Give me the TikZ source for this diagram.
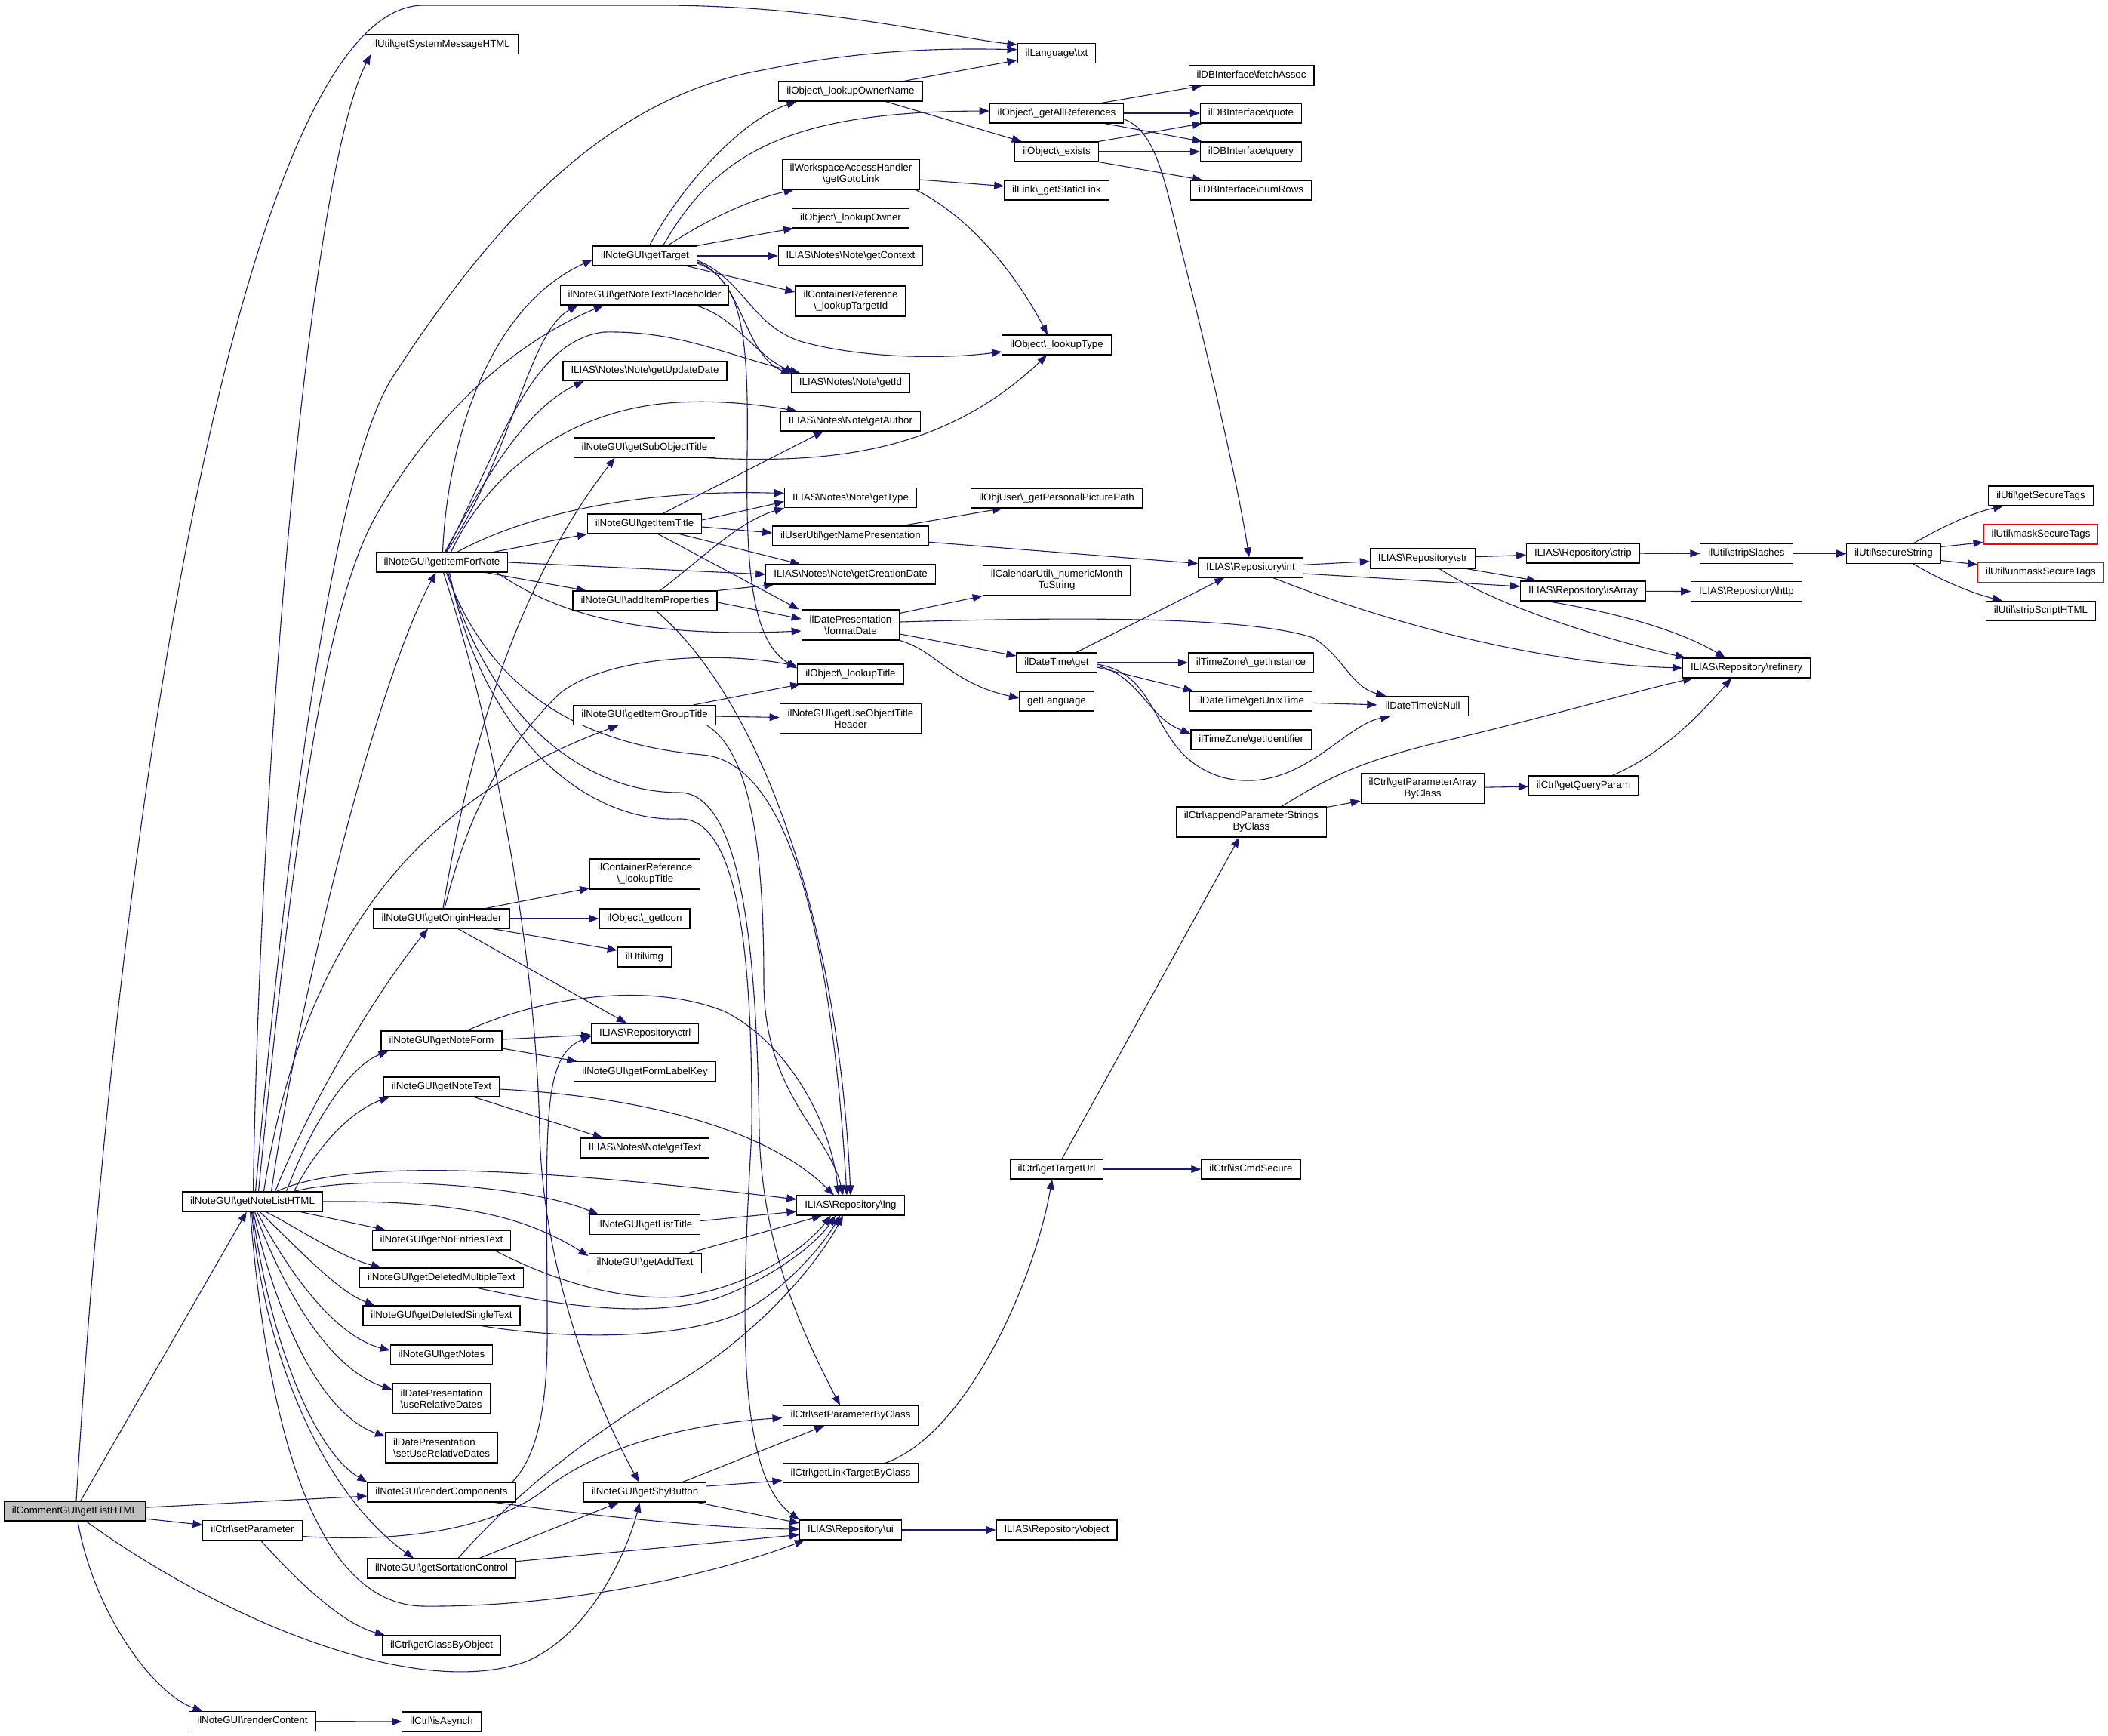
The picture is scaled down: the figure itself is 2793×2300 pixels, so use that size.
\documentclass[tikz,border=0pt]{standalone}
\usepackage{fontspec}
\setmainfont{Liberation Sans}
\usetikzlibrary{arrows.meta,calc}
\definecolor{edgecol}{RGB}{25,25,112}
\definecolor{rootfill}{RGB}{191,191,191}
\newcommand{\BSL}{\textbackslash}
\newcommand{\graphfont}{\fontsize{13.3pt}{15pt}\selectfont}
\pgfdeclarelayer{background}
\pgfsetlayers{background,main}
\begin{document}
\begin{tikzpicture}[x=1pt,y=-1pt,
 fn/.style={draw=black,line width=1.1pt,fill=white,font=\graphfont,inner xsep=10.5pt,inner ysep=0pt,minimum height=26pt,text height=9.8pt,text depth=3pt},
 fnb/.style={draw=black,line width=1.1pt,fill=white,font=\graphfont,inner xsep=10.5pt,inner ysep=0pt,minimum height=40pt,align=center},
 fnl/.style={fnb,align=left},
 rootn/.style={fn,fill=rootfill},
 redn/.style={fn,draw=red},
 e/.style={draw=edgecol,line width=1.1pt,-{Triangle[length=13pt,width=10pt]}}]
\useasboundingbox (0,0) rectangle (2793,2300);
% column 0/1
\node[rootn] (glh) at (99,2002) {ilCommentGUI\BSL getListHTML};
\node[fn] (nlh) at (334.5,1592) {ilNoteGUI\BSL getNoteListHTML};
\node[fn] (setpar) at (334.5,2027.5) {ilCtrl\BSL setParameter};
\node[fn] (rcont) at (334.5,2280.5) {ilNoteGUI\BSL renderContent};
% column 2
\node[fn] (sysmsg) at (585,58.7) {ilUtil\BSL getSystemMessageHTML};
\node[fn] (ifn) at (585.5,745) {ilNoteGUI\BSL getItemForNote};
\node[fn] (ohdr) at (585,1217) {ilNoteGUI\BSL getOriginHeader};
\node[fn] (nform) at (585,1379) {ilNoteGUI\BSL getNoteForm};
\node[fn] (ntext) at (585,1440) {ilNoteGUI\BSL getNoteText};
\node[fn] (noent) at (585,1643) {ilNoteGUI\BSL getNoEntriesText};
\node[fn] (delm) at (585,1693) {ilNoteGUI\BSL getDeletedMultipleText};
\node[fn] (dels) at (585,1743) {ilNoteGUI\BSL getDeletedSingleText};
\node[fn] (notes) at (585,1795) {ilNoteGUI\BSL getNotes};
\node[fnl] (urel) at (585,1853) {ilDatePresentation\\\BSL useRelativeDates};
\node[fnl] (surel) at (585,1918) {ilDatePresentation\\\BSL setUseRelativeDates};
\node[fn] (rcomp) at (585,1977) {ilNoteGUI\BSL renderComponents};
\node[fn] (sort) at (585,2078) {ilNoteGUI\BSL getSortationControl};
\node[fn] (cbo) at (585,2180) {ilCtrl\BSL getClassByObject};
\node[fn] (asyn) at (585,2281) {ilCtrl\BSL isAsynch};
% column 3
\node[fn] (tgt) at (854.5,339) {ilNoteGUI\BSL getTarget};
\node[fn] (ntp) at (854,391) {ilNoteGUI\BSL getNoteTextPlaceholder};
\node[fn] (upd) at (854.5,491.5) {ILIAS\BSL Notes\BSL Note\BSL getUpdateDate};
\node[fn] (sot) at (854,593) {ilNoteGUI\BSL getSubObjectTitle};
\node[fn] (ititle) at (854,694) {ilNoteGUI\BSL getItemTitle};
\node[fn] (aip) at (854.5,796) {ilNoteGUI\BSL addItemProperties};
\node[fn] (igt) at (854,947.5) {ilNoteGUI\BSL getItemGroupTitle};
\node[fnb] (crlt) at (854.7,1158) {ilContainerReference\\\BSL\_lookupTitle};
\node[fn] (icon) at (854,1217) {ilObject\BSL\_getIcon};
\node[fn] (img) at (854,1268) {ilUtil\BSL img};
\node[fn] (ctrl) at (854.7,1369) {ILIAS\BSL Repository\BSL ctrl};
\node[fn] (flk) at (854.5,1419.6) {ilNoteGUI\BSL getFormLabelKey};
\node[fn] (gtext) at (854.5,1521) {ILIAS\BSL Notes\BSL Note\BSL getText};
\node[fn] (ltitle) at (854.6,1622.6) {ilNoteGUI\BSL getListTitle};
\node[fn] (addt) at (854.6,1673.5) {ilNoteGUI\BSL getAddText};
\node[fn] (shy) at (854.6,1977) {ilNoteGUI\BSL getShyButton};
% column 4
\node[fn] (lon) at (1127,121) {ilObject\BSL\_lookupOwnerName};
\node[fnb] (goto) at (1127.5,231) {ilWorkspaceAccessHandler\\\BSL getGotoLink};
\node[fn] (lo) at (1127,289) {ilObject\BSL\_lookupOwner};
\node[fn] (ctx) at (1127,339) {ILIAS\BSL Notes\BSL Note\BSL getContext};
\node[fnb] (crtid) at (1127,399) {ilContainerReference\\\BSL\_lookupTargetId};
\node[fn] (gid) at (1127,507.5) {ILIAS\BSL Notes\BSL Note\BSL getId};
\node[fn] (auth) at (1127,558) {ILIAS\BSL Notes\BSL Note\BSL getAuthor};
\node[fn] (gtype) at (1127,659.6) {ILIAS\BSL Notes\BSL Note\BSL getType};
\node[fn] (namep) at (1127,710) {ilUserUtil\BSL getNamePresentation};
\node[fn] (cdate) at (1127,761) {ILIAS\BSL Notes\BSL Note\BSL getCreationDate};
\node[fnb] (fdate) at (1127,828) {ilDatePresentation\\\BSL formatDate};
\node[fn] (ltit) at (1127,893) {ilObject\BSL\_lookupTitle};
\node[fnb] (uoth) at (1127,952) {ilNoteGUI\BSL getUseObjectTitle\\Header};
\node[fn] (lng) at (1127,1597) {ILIAS\BSL Repository\BSL lng};
\node[fn] (spbc) at (1127,1875.5) {ilCtrl\BSL setParameterByClass};
\node[fn] (ltbc) at (1127,1951.6) {ilCtrl\BSL getLinkTargetByClass};
\node[fn] (ui) at (1127,2027) {ILIAS\BSL Repository\BSL ui};
% column 5
\node[fn] (txt) at (1400,70.7) {ilLanguage\BSL txt};
\node[fn] (allref) at (1400,150) {ilObject\BSL\_getAllReferences};
\node[fn] (exists) at (1400,201) {ilObject\BSL\_exists};
\node[fn] (slink) at (1400,252) {ilLink\BSL\_getStaticLink};
\node[fn] (ltype) at (1400,457) {ilObject\BSL\_lookupType};
\node[fn] (ppp) at (1400,660) {ilObjUser\BSL\_getPersonalPicturePath};
\node[fnb] (nmts) at (1400,769) {ilCalendarUtil\BSL\_numericMonth\\ToString};
\node[fn] (dtget) at (1400,878) {ilDateTime\BSL get};
\node[fn] (glang) at (1400,929) {getLanguage};
\node[fn] (turl) at (1400,1549) {ilCtrl\BSL getTargetUrl};
\node[fn] (obj) at (1400,2027) {ILIAS\BSL Repository\BSL object};
% column 6
\node[fn] (fetch) at (1658,100) {ilDBInterface\BSL fetchAssoc};
\node[fn] (quote) at (1657.5,150) {ilDBInterface\BSL quote};
\node[fn] (query) at (1657.5,201) {ilDBInterface\BSL query};
\node[fn] (numrows) at (1657.6,252) {ilDBInterface\BSL numRows};
\node[fn] (int) at (1657,752) {ILIAS\BSL Repository\BSL int};
\node[fn] (tzinst) at (1657.5,878) {ilTimeZone\BSL\_getInstance};
\node[fn] (unix) at (1657.5,929) {ilDateTime\BSL getUnixTime};
\node[fn] (tzid) at (1657.7,980) {ilTimeZone\BSL getIdentifier};
\node[fnb] (apsbc) at (1658,1089) {ilCtrl\BSL appendParameterStrings\\ByClass};
\node[fn] (cmdsec) at (1657.5,1549) {ilCtrl\BSL isCmdSecure};
% column 7
\node[fn] (str) at (1885,740) {ILIAS\BSL Repository\BSL str};
\node[fn] (isnull) at (1885,935.6) {ilDateTime\BSL isNull};
\node[fnb] (pabc) at (1885,1044.5) {ilCtrl\BSL getParameterArray\\ByClass};
% column 8
\node[fn] (strip) at (2097.5,733) {ILIAS\BSL Repository\BSL strip};
\node[fn] (isarr) at (2097.5,783) {ILIAS\BSL Repository\BSL isArray};
\node[fn] (qparam) at (2098,1041) {ilCtrl\BSL getQueryParam};
% column 9
\node[fn] (slash) at (2314,733.5) {ilUtil\BSL stripSlashes};
\node[fn] (http) at (2314,783.8) {ILIAS\BSL Repository\BSL http};
\node[fn] (refin) at (2314,885) {ILIAS\BSL Repository\BSL refinery};
% column 10/11
\node[fn] (sstr) at (2509,733.5) {ilUtil\BSL secureString};
\node[fn] (gst) at (2704,657) {ilUtil\BSL getSecureTags};
\node[redn] (mst) at (2704,708) {ilUtil\BSL maskSecureTags};
\node[redn] (umst) at (2704,758.5) {ilUtil\BSL unmaskSecureTags};
\node[fn] (ssh) at (2704,809.5) {ilUtil\BSL stripScriptHTML};

\begin{pgfonlayer}{background}
\fill[white] (0,0) rectangle (2793,2300);
% from ilCommentGUI::getListHTML
\draw[e] ($(glh.north)+(2,0)$) .. controls (160,1000) and (330,10) .. (560,7) -- (880,7) .. controls (1100,8) and (1260,50) .. ($(txt.north west)+(0,2)$);
\draw[e] (glh) -- (nlh);
\draw[e] (glh) -- (rcomp);
\draw[e] (glh) -- (setpar);
\draw[e] ($(glh.south)+(4,0)$) .. controls (125,2140) and (205,2245) .. ($(rcont.north)+(-66,0)$);
\draw[e] ($(glh.south)+(15,0)$) .. controls (300,2150) and (560,2255) .. (700,2200) .. controls (780,2165) and (830,2060) .. ($(shy.south)+(-7,0)$);
% from getNoteListHTML
\draw[e] ($(nlh.north)+(1,0)$) .. controls (345,1000) and (410,230) .. ($(sysmsg.south west)+(8,0)$);
\draw[e] ($(nlh.north)+(4,0)$) .. controls (390,1000) and (450,610) .. (520,500) .. controls (650,300) and (800,130) .. (1010,93) .. controls (1150,64) and (1260,64) .. ($(txt.west)+(0,-5)$);
\draw[e] ($(nlh.north)+(8,0)$) .. controls (390,1100) and (430,800) .. (500,680) .. controls (580,540) and (690,450) .. ($(ntp.south west)+(58,0)$);
\draw[e] ($(nlh.north)+(25,0)$) .. controls (400,1300) and (500,900) .. ($(ifn.south)+(-8,0)$);
\draw[e] ($(nlh.north)+(15,0)$) .. controls (400,1250) and (550,1060) .. ($(igt.south west)+(60,0)$);
\draw[e] ($(nlh.north)+(30,0)$) .. controls (420,1440) and (510,1300) .. ($(ohdr.south)+(-18,0)$);
\draw[e] ($(nlh.north)+(45,0)$) .. controls (420,1470) and (470,1410) .. ($(nform.south west)+(10,0)$);
\draw[e] ($(nlh.north)+(55,0)$) .. controls (425,1510) and (470,1470) .. ($(ntext.south west)+(8,0)$);
\draw[e] ($(nlh.north)+(32,0)$) .. controls (450,1540) and (650,1540) .. ($(lng.west)+(0,-8)$);
\draw[e] ($(nlh.north)+(55,0)$) .. controls (480,1555) and (700,1570) .. ($(ltitle.north west)+(12,0)$);
\draw[e] (nlh.east) .. controls (620,1590) and (700,1615) .. ($(addt.north west)+(0,4)$);
\draw[e] ($(nlh.south east)+(-30,0)$) -- ($(noent.north west)+(18,0)$);
\draw[e] ($(nlh.south)+(18,0)$) .. controls (400,1630) and (450,1665) .. ($(delm.north west)+(29,0)$);
\draw[e] ($(nlh.south)+(10,0)$) .. controls (400,1660) and (450,1712) .. ($(dels.north west)+(16,0)$);
\draw[e] ($(nlh.south)+(6,0)$) .. controls (390,1700) and (450,1772) .. ($(notes.west)+(0,-6)$);
\draw[e] ($(nlh.south)+(3,0)$) .. controls (380,1720) and (440,1815) .. ($(urel.west)+(0,-12)$);
\draw[e] ($(nlh.south)+(1,0)$) .. controls (370,1760) and (430,1875) .. ($(surel.west)+(0,-15)$);
\draw[e] (nlh.south) .. controls (360,1790) and (420,1925) .. (rcomp.north west);
\draw[e] ($(nlh.south)+(-1,0)$) .. controls (350,1800) and (430,1980) .. ($(sort.north west)+(62,0)$);
\draw[e] ($(nlh.south)+(-3,0)$) .. controls (355,1900) and (420,2125) .. (560,2128) .. controls (750,2130) and (950,2085) .. ($(ui.south west)+(7,0)$);
% from getItemForNote
\draw[e] ($(ifn.north)+(1,0)$) .. controls (592,600) and (640,410) .. ($(tgt.west)+(0,5)$);
\draw[e] ($(ifn.north)+(6,0)$) .. controls (680,600) and (700,440) .. ($(ntp.south west)+(24,0)$);
\draw[e] ($(ifn.north)+(5,0)$) .. controls (660,600) and (700,452) .. (800,440) .. controls (900,438) and (960,470) .. ($(gid.north west)+(12,0)$);
\draw[e] ($(ifn.north)+(4,0)$) .. controls (650,620) and (700,540) .. ($(upd.south west)+(28,0)$);
\draw[e] ($(ifn.north)+(12,0)$) .. controls (650,620) and (760,540) .. (900,533) .. controls (960,530) and (1010,537) .. ($(auth.north west)+(22,0)$);
\draw[e] ($(ifn.north)+(20,0)$) .. controls (700,680) and (850,648) .. ($(gtype.west)+(0,-6)$);
\draw[e] ($(ifn.north east)+(-20,0)$) -- (ititle.south west);
\draw[e] (ifn.east) -- (cdate.west);
\draw[e] ($(ifn.south east)+(-30,0)$) -- ($(aip.north west)+(18,0)$);
\draw[e] ($(ifn.south east)+(-15,0)$) .. controls (740,815) and (850,845) .. ($(fdate.west)+(0,8)$);
\draw[e] ($(ifn.south)+(2,0)$) .. controls (650,950) and (710,1250) .. (715,1500) .. controls (720,1700) and (800,1880) .. ($(shy.north)+(-8,0)$);
\draw[e] ($(ifn.south)+(6,0)$) .. controls (660,950) and (820,990) .. (930,1000) .. controls (1060,1010) and (1105,1300) .. ($(lng.north)+(-5,0)$);
\draw[e] ($(ifn.south)+(8,0)$) .. controls (650,960) and (780,1050) .. (900,1050) .. controls (990,1050) and (1003,1300) .. (1006,1500) .. controls (1010,1650) and (1060,1760) .. ($(spbc.north)+(-14,0)$);
\draw[e] ($(ifn.south)+(10,0)$) .. controls (640,980) and (780,1090) .. (900,1085) .. controls (985,1082) and (997,1300) .. (996,1500) .. controls (985,1700) and (970,1950) .. (ui.north west);
% from getTarget
\draw[e] ($(tgt.north)+(6,0)$) .. controls (900,250) and (980,160) .. ($(lon.south west)+(24,0)$);
\draw[e] ($(tgt.north)+(24,0)$) .. controls (950,200) and (1050,148) .. ($(allref.west)+(0,-3)$);
\draw[e] ($(tgt.north)+(30,0)$) .. controls (930,295) and (990,265) .. ($(goto.south west)+(16,0)$);
\draw[e] (tgt.north east) -- ($(lo.south west)+(2,0)$);
\draw[e] (tgt) -- (ctx);
\draw[e] ($(tgt.south east)+(-14,0)$) -- ($(crtid.west)+(0,-12)$);
\draw[e] ($(tgt.east)+(0,6)$) .. controls (985,370) and (995,430) .. (1060,452) .. controls (1140,475) and (1250,476) .. ($(ltype.west)+(0,9)$);
\draw[e] ($(tgt.east)+(0,8)$) .. controls (985,370) and (985,470) .. ($(gid.north west)+(0,2)$);
\draw[e] ($(tgt.east)+(0,10)$) .. controls (985,370) and (992,450) .. (990,600) .. controls (988,750) and (995,850) .. ($(ltit.north west)+(0,6)$);
\draw[e] ($(ntp.south east)+(-45,0)$) .. controls (975,420) and (1000,470) .. ($(gid.north west)+(5,0)$);
% lookupOwnerName, getAllReferences, exists
\draw[e] ($(lon.north east)+(-25,0)$) -- ($(txt.west)+(0,9)$);
\draw[e] (lon) -- (exists);
\draw[e] ($(allref.north east)+(-30,0)$) -- ($(fetch.south west)+(18,0)$);
\draw[e] (allref) -- (quote);
\draw[e] ($(allref.south east)+(-26,0)$) -- ($(query.north west)+(3,0)$);
\draw[e] ($(allref.east)+(0,8)$) .. controls (1535,175) and (1545,250) .. (1570,350) .. controls (1600,470) and (1640,640) .. ($(int.north)+(-2,0)$);
\draw[e] (exists.north east) -- ($(quote.south west)+(3,0)$);
\draw[e] (exists) -- (query);
\draw[e] (exists.south east) -- ($(numrows.north west)+(16,0)$);
\draw[e] (goto) -- (slink);
\draw[e] ($(goto.south east)+(-6,0)$) .. controls (1290,290) and (1350,370) .. ($(ltype.north)+(-12,0)$);
\draw[e] ($(sot.south east)+(-14,0)$) .. controls (1100,615) and (1250,600) .. ($(ltype.south)+(-13,0)$);
% getItemTitle, addItemProperties, getItemGroupTitle
\draw[e] ($(ititle.north)+(24,0)$) -- ($(auth.south west)+(57,0)$);
\draw[e] ($(ititle.east)+(0,-5)$) -- ($(gtype.west)+(0,5)$);
\draw[e] ($(ititle.east)+(0,4)$) -- ($(namep.west)+(0,-4)$);
\draw[e] ($(ititle.south east)+(-30,0)$) -- ($(cdate.north west)+(46,0)$);
\draw[e] ($(ititle.south)+(18,0)$) -- ($(fdate.north west)+(-3,0)$);
\draw[e] ($(aip.north)+(20,0)$) .. controls (930,740) and (980,690) .. (gtype.south west);
\draw[e] (aip.north east) -- ($(cdate.south west)+(11,0)$);
\draw[e] ($(aip.east)+(0,2)$) -- ($(fdate.west)+(0,-8)$);
\draw[e] ($(aip.south)+(15,0)$) .. controls (1000,920) and (1110,1200) .. (lng.north);
\draw[e] ($(igt.north east)+(-30,0)$) -- ($(ltit.south west)+(4,0)$);
\draw[e] (igt) -- (uoth);
\draw[e] ($(igt.south east)+(-12,0)$) .. controls (1000,1000) and (1012,1150) .. (1012,1300) .. controls (1012,1450) and (1098,1500) .. ($(lng.north)+(-10,0)$);
\draw[e] ($(namep.north east)+(-35,0)$) -- ($(ppp.south west)+(42,0)$);
\draw[e] (namep) -- (int);
% formatDate, ilDateTime
\draw[e] ($(fdate.north east)+(0,5)$) -- (nmts.south west);
\draw[e] ($(fdate.east)+(0,-4)$) .. controls (1400,818) and (1650,815) .. (1740,845) .. controls (1780,870) and (1790,910) .. ($(isnull.north west)+(12,0)$);
\draw[e] ($(fdate.east)+(0,12)$) -- ($(dtget.west)+(0,-9)$);
\draw[e] (fdate.south east) .. controls (1240,862) and (1260,905) .. ($(glang.west)+(0,-4)$);
\draw[e] ($(dtget.north east)+(-28,0)$) -- ($(int.south west)+(35,0)$);
\draw[e] (dtget) -- (tzinst);
\draw[e] ($(dtget.east)+(0,6)$) -- ($(unix.north west)+(5,0)$);
\draw[e] ($(dtget.east)+(0,4)$) .. controls (1510,895) and (1520,950) .. ($(tzid.west)+(0,-8)$);
\draw[e] ($(dtget.east)+(0,2)$) .. controls (1545,895) and (1520,1000) .. (1620,1030) .. controls (1720,1055) and (1780,960) .. ($(isnull.south west)+(18,0)$);
\draw[e] (unix) -- (isnull);
% Repository int / str / isArray
\draw[e] (int) -- (str);
\draw[e] ($(int.east)+(0,8)$) -- ($(isarr.west)+(0,-6)$);
\draw[e] ($(int.south east)+(-40,0)$) .. controls (1850,830) and (2050,880) .. (refin.west);
\draw[e] (str) -- (strip);
\draw[e] ($(str.south east)+(-12,0)$) -- ($(isarr.north west)+(22,0)$);
\draw[e] ($(str.south)+(22,0)$) .. controls (1980,800) and (2100,840) .. ($(refin.north west)+(4,0)$);
\draw[e] (isarr) -- (http);
\draw[e] ($(isarr.south west)+(36,0)$) .. controls (2190,820) and (2250,850) .. ($(refin.north)+(-28,0)$);
\draw[e] (strip) -- (slash);
\draw[e] (slash) -- (sstr);
\draw[e] ($(sstr.north)+(26,0)$) .. controls (2570,700) and (2610,680) .. ($(gst.south west)+(20,0)$);
\draw[e] ($(sstr.east)+(0,-9)$) -- ($(mst.south west)+(0,-3)$);
\draw[e] ($(sstr.east)+(0,9)$) -- ($(umst.north west)+(0,3)$);
\draw[e] ($(sstr.south)+(26,0)$) .. controls (2570,768) and (2610,785) .. ($(ssh.north west)+(22,0)$);
% ilCtrl chain
\draw[e] ($(qparam.north east)+(-35,0)$) .. controls (2200,1000) and (2250,950) .. ($(refin.south)+(-20,0)$);
\draw[e] (pabc) -- (qparam);
\draw[e] ($(apsbc.north east)+(0,1)$) -- ($(pabc.south west)+(0,-4)$);
\draw[e] ($(apsbc.north)+(40,0)$) .. controls (1760,1030) and (1800,1010) .. (1900,985) .. controls (2050,950) and (2150,920) .. ($(refin.south west)+(14,0)$);
\draw[e] ($(turl.north)+(7,0)$) -- ($(apsbc.south)+(-16,0)$);
\draw[e] (turl) -- (cmdsec);
\draw[e] ($(ltbc.north east)+(-44,0)$) .. controls (1280,1900) and (1370,1700) .. ($(turl.south)+(-6,0)$);
\draw[e] (ui) -- (obj);
% getShyButton, getSortationControl, renderComponents, setParameter
\draw[e] ($(shy.north)+(50,0)$) -- ($(spbc.south)+(-35,0)$);
\draw[e] ($(shy.east)+(0,-8)$) -- ($(ltbc.west)+(0,10)$);
\draw[e] ($(shy.south east)+(-12,0)$) -- ($(ui.west)+(0,-9)$);
\draw[e] ($(sort.north)+(22,0)$) .. controls (700,1960) and (800,1890) .. (900,1830) .. controls (1000,1770) and (1080,1680) .. ($(lng.south)+(-10,0)$);
\draw[e] ($(sort.north)+(50,0)$) -- ($(shy.south)+(-35,0)$);
\draw[e] (sort) -- (ui);
\draw[e] ($(rcomp.north east)+(-5,0)$) .. controls (712,1930) and (726,1860) .. (725,1760) .. controls (725,1500) and (715,1400) .. ($(ctrl.west)+(0,4)$);
\draw[e] ($(rcomp.south east)+(-28,0)$) .. controls (800,2010) and (950,2025) .. ($(ui.west)+(0,-1)$);
\draw[e] ($(setpar.east)+(0,8)$) .. controls (550,2045) and (660,2020) .. (720,1975) .. controls (800,1910) and (930,1885) .. ($(spbc.west)+(0,3)$);
\draw[e] ($(setpar.south)+(11,0)$) .. controls (390,2090) and (450,2150) .. ($(cbo.north west)+(4,0)$);
\draw[e] (rcont) -- (asyn);
% getOriginHeader
\draw[e] ($(ohdr.north)+(2,0)$) .. controls (620,1000) and (680,780) .. ($(sot.south west)+(55,0)$);
\draw[e] ($(ohdr.north)+(4,0)$) .. controls (620,1080) and (660,1000) .. (740,920) .. controls (800,870) and (950,862) .. ($(ltit.north west)+(0,3)$);
\draw[e] ($(ohdr.north east)+(-32,0)$) -- ($(crlt.south west)+(0,-2)$);
\draw[e] (ohdr) -- (icon);
\draw[e] ($(ohdr.south east)+(-23,0)$) -- ($(img.west)+(0,-9)$);
\draw[e] ($(ohdr.south)+(22,0)$) -- ($(ctrl.north west)+(47,0)$);
% getNoteForm, getNoteText, texts
\draw[e] ($(nform.east)+(0,-2)$) -- ($(ctrl.west)+(0,2)$);
\draw[e] ($(nform.east)+(0,10)$) -- ($(flk.north west)+(4,0)$);
\draw[e] ($(nform.north east)+(-47,0)$) .. controls (720,1320) and (860,1300) .. (960,1340) .. controls (1040,1380) and (1100,1480) .. ($(lng.north)+(-16,0)$);
\draw[e] ($(ntext.south east)+(-34,0)$) -- ($(gtext.north west)+(30,0)$);
\draw[e] ($(ntext.east)+(0,3)$) .. controls (800,1450) and (1000,1480) .. ($(lng.north)+(-22,0)$);
\draw[e] ($(ltitle.east)+(0,-5)$) -- ($(lng.west)+(0,8)$);
\draw[e] ($(addt.north east)+(-16,0)$) -- ($(lng.south)+(-38,0)$);
\draw[e] ($(noent.south east)+(-22,0)$) .. controls (700,1680) and (800,1725) .. (900,1718) .. controls (1000,1705) and (1070,1650) .. ($(lng.south)+(-26,0)$);
\draw[e] ($(delm.south east)+(-61,0)$) .. controls (720,1725) and (850,1750) .. (950,1720) .. controls (1020,1695) and (1080,1650) .. ($(lng.south)+(-20,0)$);
\draw[e] ($(dels.south east)+(-52,0)$) .. controls (750,1775) and (900,1775) .. (980,1740) .. controls (1040,1710) and (1090,1650) .. ($(lng.south)+(-14,0)$);
\end{pgfonlayer}
\end{tikzpicture}
\end{document}
